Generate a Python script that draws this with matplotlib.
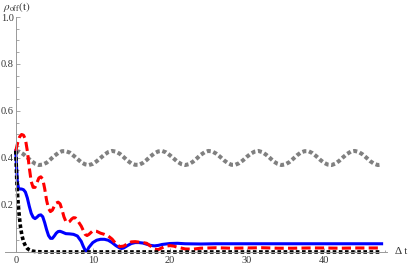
import numpy as np
import matplotlib
matplotlib.use('Agg')
import matplotlib.pyplot as plt
from matplotlib.ticker import FixedLocator

plt.rcParams['font.family'] = ['Liberation Serif', 'DejaVu Serif']
plt.rcParams['mathtext.fontset'] = 'stix'

# grey curve, sampled every 0.5
t_gray = np.arange(0, 48, 0.5)
v_gray = [0.430, 0.426, 0.416, 0.402, 0.388, 0.376, 0.370, 0.372, 0.380, 0.394,
          0.409, 0.421, 0.429, 0.429, 0.423, 0.410, 0.396, 0.382, 0.373, 0.370,
          0.375, 0.386, 0.400, 0.414, 0.425, 0.430, 0.427, 0.418, 0.404, 0.389,
          0.377, 0.371, 0.371, 0.379, 0.392, 0.407, 0.420, 0.428, 0.430, 0.424,
          0.412, 0.398, 0.384, 0.374, 0.370, 0.374, 0.384, 0.398, 0.413, 0.424,
          0.430, 0.428, 0.419, 0.406, 0.391, 0.379, 0.371, 0.371, 0.378, 0.390,
          0.405, 0.418, 0.427, 0.430, 0.425, 0.414, 0.400, 0.385, 0.375, 0.370,
          0.373, 0.382, 0.396, 0.411, 0.423, 0.429, 0.429, 0.421, 0.408, 0.393,
          0.380, 0.372, 0.370, 0.376, 0.388, 0.403, 0.417, 0.427, 0.430, 0.426,
          0.416, 0.402, 0.387, 0.376, 0.370, 0.372]

t_red = [0, 0.25, 0.5, 0.75, 1.0, 1.25, 1.5, 1.75, 2.0, 2.25, 2.5, 2.75, 3.0, 3.25,
         3.5, 3.75, 4.0, 4.25, 4.5, 4.75, 5.0, 5.25, 5.5, 5.75, 6.0, 6.25, 6.5, 6.75,
         7.0, 7.25, 7.5, 7.75, 8.0, 8.5, 9.0, 9.25, 9.5, 10.0, 10.5, 11.0, 11.5, 12.0,
         12.5, 13.0, 13.5, 14.0, 14.5, 15.0, 15.5, 16.0, 16.5, 17.0, 17.5, 18.0, 18.5,
         19.0, 19.5, 20.0, 20.5, 21.0, 22.0, 23.0, 24, 26, 28, 30, 32, 34, 36, 38, 40,
         42, 44, 46, 47.5]
v_red = [0.43, 0.465, 0.49, 0.50, 0.497, 0.48, 0.43, 0.36, 0.30, 0.275, 0.275, 0.295,
         0.315, 0.32, 0.31, 0.27, 0.22, 0.185, 0.172, 0.178, 0.195, 0.208, 0.212, 0.205,
         0.18, 0.15, 0.13, 0.125, 0.13, 0.14, 0.146, 0.145, 0.135, 0.11, 0.075, 0.07,
         0.075, 0.09, 0.088, 0.08, 0.075, 0.068, 0.055, 0.035, 0.023, 0.025, 0.035,
         0.043, 0.044, 0.042, 0.04, 0.037, 0.025, 0.012, 0.010, 0.018, 0.025, 0.027,
         0.025, 0.020, 0.013, 0.012, 0.016, 0.018, 0.016, 0.017, 0.018, 0.016, 0.016,
         0.017, 0.017, 0.016, 0.017, 0.017, 0.017]

t_blue = [0, 0.1, 0.2, 0.35, 0.5, 0.75, 1.0, 1.25, 1.5, 1.75, 2.0, 2.25, 2.5, 2.75,
          3.0, 3.25, 3.5, 3.75, 4.0, 4.25, 4.5, 4.75, 5.0, 5.25, 5.5, 5.75, 6.0, 6.5,
          7.0, 7.5, 8.0, 8.5, 8.75, 9.0, 9.2, 9.5, 10.0, 10.5, 11.0, 11.5, 12.0, 12.5,
          13.0, 13.5, 13.75, 14.0, 14.5, 15.0, 15.5, 16.0, 16.5, 17.0, 17.5, 18.0, 18.5,
          19.0, 20.0, 21, 22, 24, 26, 30, 35, 40, 47.5]
v_blue = [0.43, 0.36, 0.30, 0.272, 0.268, 0.268, 0.265, 0.255, 0.23, 0.195, 0.165,
          0.148, 0.142, 0.148, 0.156, 0.158, 0.15, 0.125, 0.095, 0.07, 0.058, 0.058,
          0.068, 0.08, 0.087, 0.088, 0.085, 0.078, 0.077, 0.075, 0.068, 0.045, 0.025,
          0.008, 0.002, 0.02, 0.04, 0.05, 0.054, 0.054, 0.05, 0.04, 0.027, 0.017, 0.015,
          0.017, 0.027, 0.036, 0.04, 0.04, 0.038, 0.033, 0.028, 0.026, 0.028, 0.032,
          0.036, 0.037, 0.035, 0.034, 0.035, 0.035, 0.035, 0.035, 0.035]

t_black = [0, 0.1, 0.2, 0.3, 0.4, 0.6, 0.8, 1.0, 1.25, 1.5, 1.75, 2.0, 2.5, 3.0, 4.0, 47.5]
v_black = [0.43, 0.33, 0.26, 0.21, 0.17, 0.11, 0.07, 0.045, 0.026, 0.015, 0.009, 0.005,
           0.002, 0.001, 0.0, 0.0]

fig = plt.figure(figsize=(4.09, 2.66), dpi=100)
ax = fig.add_axes([5 / 409, (266 - 254.8) / 266, 382 / 409, 237.8 / 266])

ax.plot(t_gray, v_gray, color='#808080', lw=2.9, ls=(0, (1.0, 0.65)))
ax.plot(t_blue, v_blue, color='#0000ff', lw=2.2)
ax.plot(t_red, v_red, color='#ff0000', lw=2.2, ls=(0, (3.0, 1.4)))
ax.plot(t_black, v_black, color='black', lw=2.6, ls=(0, (1.0, 0.7)))

ax.set_xlim(-1.4, 48.2)
ax.set_ylim(-0.012, 1.0)

for s in ['top', 'right']:
    ax.spines[s].set_visible(False)
ax.spines['left'].set_position(('data', 0))
ax.spines['bottom'].set_position(('data', 0))
ax.spines['left'].set_bounds(0, 1.0)
for s in ['left', 'bottom']:
    ax.spines[s].set_color('#999999')
    ax.spines[s].set_linewidth(0.7)

ax.set_xticks([0, 10, 20, 30, 40])
ax.set_xticklabels(['0', '10', '20', '30', '40'])
ax.xaxis.set_minor_locator(FixedLocator([x for x in range(2, 49, 2) if x % 10]))
ax.set_yticks([0.2, 0.4, 0.6, 0.8, 1.0])
ax.set_yticklabels(['0.2', '0.4', '0.6', '0.8', '1.0'])
ax.yaxis.set_minor_locator(FixedLocator([k * 0.05 for k in range(1, 20) if k % 4]))

ax.tick_params(which='both', direction='in', color='#999999', width=0.6,
               labelsize=7.5, labelcolor='#333333')
ax.tick_params(which='major', length=3.0)
ax.tick_params(which='minor', length=1.8)
ax.tick_params(axis='y', pad=1.5)
ax.tick_params(axis='x', pad=3)

fig.text(3 / 409, 1 - 7 / 266, r'$\rho_{\mathrm{off}}(\mathrm{t})$', fontsize=8,
         color='#333333', va='center', ha='left')
fig.text(395 / 409, 1 - 251 / 266, 'Δ t', fontsize=8, color='#333333',
         va='center', ha='left')

fig.savefig('out.png', dpi=100)
